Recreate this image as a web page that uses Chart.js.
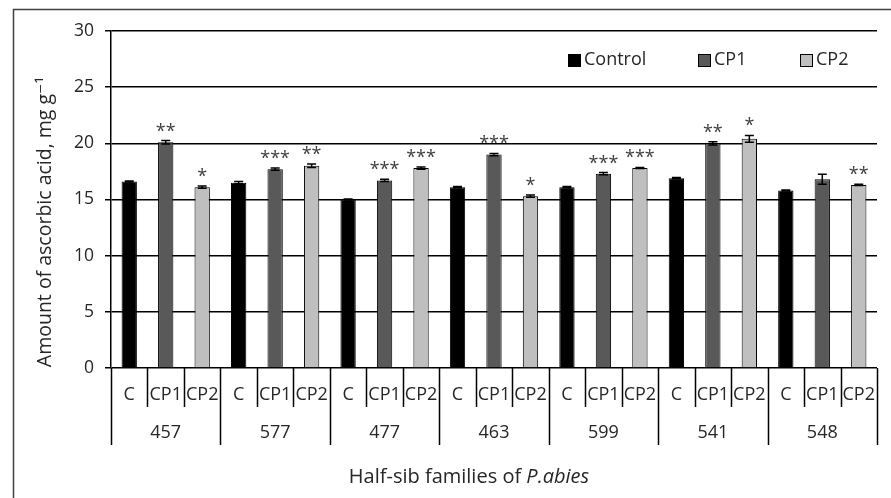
<!DOCTYPE html>
<html lang="en">
<head>
  <meta charset="UTF-8" />
  <title>Ascorbic acid in half-sib families of P.abies</title>
  <script src="https://cdn.jsdelivr.net/npm/chart.js"></script>
  <style>
    body { margin: 0; background: #fff; }
    canvas { display: block; }
  </style>
</head>
<body>
  <canvas id="acidChart" width="891" height="498"></canvas>

  <script>
    const families = ['457', '577', '477', '463', '599', '541', '548'];
    const treatments = ['C', 'CP1', 'CP2'];
    const seriesNames = ['Control', 'CP1', 'CP2'];

    const controlValues = [16.6, 16.5, 15.0, 16.1, 16.1, 16.9, 15.8];
    const cp1Values = [20.1, 17.7, 16.7, 19.0, 17.3, 20.0, 16.8];
    const cp2Values = [16.1, 18.0, 17.8, 15.3, 17.8, 20.4, 16.3];

    const controlErrors = [0.05, 0.1, 0.05, 0.05, 0.05, 0.05, 0.05];
    const cp1Errors = [0.15, 0.1, 0.1, 0.1, 0.1, 0.15, 0.45];
    const cp2Errors = [0.1, 0.15, 0.1, 0.1, 0.05, 0.3, 0.05];

    const controlMarks = ['', '', '', '', '', '', ''];
    const cp1Marks = ['**', '***', '***', '***', '***', '**', ''];
    const cp2Marks = ['*', '**', '***', '*', '***', '*', '**'];

    const yMin = 0, yMax = 30, yStep = 5;

    const colors = ['#000000', '#595959', '#bfbfbf'];
    const values = [controlValues, cp1Values, cp2Values];
    const errors = [controlErrors, cp1Errors, cp2Errors];
    const marks = [controlMarks, cp1Marks, cp2Marks];

    // one category per bar: family x treatment
    const labels = [];
    families.forEach(f => treatments.forEach(t => labels.push(t)));

    const datasets = seriesNames.map((name, k) => ({
      label: name,
      data: labels.map((_, i) => (i % 3 === k ? values[k][Math.floor(i / 3)] : null)),
      backgroundColor: colors[k],
      borderColor: '#000',
      borderWidth: 1,
      categoryPercentage: 1,
      barPercentage: 0.42
    }));

    const FONT = "'Open Sans', 'DejaVu Sans', sans-serif";
    const TEXT = '#262626';

    const extras = {
      id: 'extras',
      afterDatasetsDraw(chart) {
        const ctx = chart.ctx;
        const y = chart.scales.y;
        ctx.save();

        // error bars and significance marks
        chart.data.datasets.forEach((ds, k) => {
          const meta = chart.getDatasetMeta(k);
          ds.data.forEach((v, i) => {
            if (v === null) return;
            const fi = Math.floor(i / 3);
            const err = errors[k][fi];
            const el = meta.data[i];
            const yt = y.getPixelForValue(v + err);
            const yb = y.getPixelForValue(v - err);
            ctx.strokeStyle = '#000';
            ctx.lineWidth = 1.5;
            ctx.beginPath();
            ctx.moveTo(el.x, yt); ctx.lineTo(el.x, yb);
            ctx.moveTo(el.x - 4.5, yt); ctx.lineTo(el.x + 4.5, yt);
            ctx.moveTo(el.x - 4.5, yb); ctx.lineTo(el.x + 4.5, yb);
            ctx.stroke();
            const m = marks[k][fi];
            if (m) {
              ctx.fillStyle = '#404040';
              ctx.font = '18px ' + FONT;
              ctx.textAlign = 'center';
              ctx.textBaseline = 'alphabetic';
              ctx.fillText(m, el.x, yt - 4);
            }
          });
        });
        ctx.restore();
      },
      afterDraw(chart) {
        const ctx = chart.ctx;
        const x = chart.scales.x;
        const area = chart.chartArea;
        const slot = (area.right - area.left) / labels.length;
        ctx.save();

        // outer frame
        ctx.strokeStyle = '#404040';
        ctx.lineWidth = 1.5;
        ctx.beginPath();
        ctx.moveTo(13.5, 498); ctx.lineTo(13.5, 9.5); ctx.lineTo(891, 9.5);
        ctx.stroke();

        // category separators
        ctx.strokeStyle = '#000';
        ctx.lineWidth = 1.5;
        ctx.beginPath();
        for (let i = 0; i <= labels.length; i++) {
          const px = Math.round(area.left + i * slot) + 0.5;
          const len = i % 3 === 0 ? 77 : 39;
          ctx.moveTo(px, area.bottom); ctx.lineTo(px, area.bottom + len);
        }
        ctx.stroke();

        // treatment and family labels
        ctx.fillStyle = TEXT;
        ctx.font = '18px ' + FONT;
        ctx.textAlign = 'center';
        ctx.textBaseline = 'middle';
        labels.forEach((t, i) => ctx.fillText(t, x.getPixelForValue(i), area.bottom + 27));
        families.forEach((f, fi) => ctx.fillText(f, x.getPixelForValue(fi * 3 + 1), area.bottom + 65));

        // x title with italic species name
        ctx.font = '20px ' + FONT;
        const part1 = 'Half-sib families of ';
        const w1 = ctx.measureText(part1).width;
        ctx.font = 'italic 20px ' + FONT;
        const w2 = ctx.measureText('P.abies').width;
        const sx = 469 - (w1 + w2) / 2;
        ctx.textAlign = 'left';
        ctx.font = '20px ' + FONT;
        ctx.fillText(part1, sx, 477);
        ctx.font = 'italic 20px ' + FONT;
        ctx.fillText('P.abies', sx + w1, 477);

        // y title
        ctx.save();
        ctx.translate(45, 222);
        ctx.rotate(-Math.PI / 2);
        ctx.textAlign = 'center';
        ctx.font = '19.5px ' + FONT;
        ctx.fillText('Amount of ascorbic acid, mg g\u207B\u00B9', 0, 0);
        ctx.restore();

        // legend
        const legendX = [568, 698, 800];
        chart.data.datasets.forEach((ds, k) => {
          ctx.fillStyle = ds.backgroundColor;
          ctx.fillRect(legendX[k], 54, 12, 12);
          ctx.strokeStyle = '#000';
          ctx.lineWidth = 1;
          ctx.strokeRect(legendX[k] + 0.5, 54.5, 12, 12);
          ctx.fillStyle = TEXT;
          ctx.font = '18px ' + FONT;
          ctx.textAlign = 'left';
          ctx.textBaseline = 'middle';
          ctx.fillText(ds.label, legendX[k] + 16, 60);
        });
        ctx.restore();
      }
    };

    Chart.defaults.font.family = FONT;

    new Chart(document.getElementById('acidChart').getContext('2d'), {
      type: 'bar',
      data: { labels, datasets },
      plugins: [extras],
      options: {
        responsive: false,
        animation: false,
        devicePixelRatio: 1,
        skipNull: true,
        layout: { padding: { left: 0, top: 31, right: 14, bottom: 0 } },
        plugins: { legend: { display: false }, tooltip: { enabled: false } },
        scales: {
          x: {
            ticks: { display: false },
            grid: { display: false },
            border: { display: false },
            afterFit(scale) { scale.height = 130; }
          },
          y: {
            min: yMin,
            max: yMax,
            ticks: { stepSize: yStep, color: TEXT, font: { size: 17.5 }, padding: 11 },
            grid: { color: '#000', lineWidth: 1.5, tickLength: 6 },
            border: { color: '#000', width: 1.5 },
            afterFit(scale) { scale.width = 111; }
          }
        }
      }
    });
  </script>
</body>
</html>
